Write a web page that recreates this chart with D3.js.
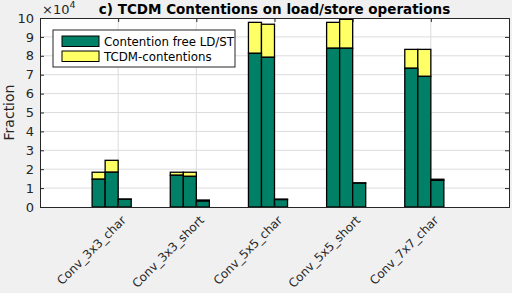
<!DOCTYPE html>
<meta charset="utf-8">
<script src="https://cdn.jsdelivr.net/npm/d3@7"></script>
<style>
  body { margin: 0; background: #f0f0f0; }
  text { font-family: "DejaVu Sans", sans-serif; }
</style>
<body>
<div id="chart"></div>
<script>
// data, in units of 1e4
var categories = ["Conv_3x3_char", "Conv_3x3_short", "Conv_5x5_char", "Conv_5x5_short", "Conv_7x7_char"];
var series = ["Contention free LD/ST", "TCDM-contentions"];
// green part of each bar (3 bars per group, 4th slot empty)
var freeVals = [
  [1.47, 1.84, 0.41],
  [1.68, 1.62, 0.31],
  [8.13, 7.92, 0.39],
  [8.40, 8.40, 1.26],
  [7.34, 6.91, 1.41]
];
// totals (green + yellow)
var totalVals = [
  [1.84, 2.47, 0.42],
  [1.84, 1.84, 0.37],
  [9.77, 9.67, 0.42],
  [9.77, 9.93, 1.28],
  [8.34, 8.34, 1.47]
];
var yTicks = [0, 1, 2, 3, 4, 5, 6, 7, 8, 9, 10];

var W = 512, H = 293;
var margin = {top: 18, right: 3, bottom: 86, left: 40};
var width = W - margin.left - margin.right,
    height = H - margin.top - margin.bottom;

var green = "#008066", yellow = "#ffff66";

var svg = d3.select("#chart").append("svg")
    .attr("width", W).attr("height", H);

var g = svg.append("g")
    .attr("transform", "translate(" + margin.left + "," + margin.top + ")");

var x = d3.scaleLinear().domain([0, 6]).range([0, width]);
var y = d3.scaleLinear().domain([0, 10]).range([height, 0]);

g.append("rect").attr("width", width).attr("height", height).attr("fill", "#fff");

// grid
g.selectAll(".gy").data(yTicks.slice(1, -1)).enter().append("line")
    .attr("x1", 0).attr("x2", width)
    .attr("y1", function(d) { return y(d); }).attr("y2", function(d) { return y(d); })
    .attr("stroke", "#dcdcdc").attr("stroke-width", 1);
g.selectAll(".gx").data(categories).enter().append("line")
    .attr("x1", function(d, i) { return x(i + 1); }).attr("x2", function(d, i) { return x(i + 1); })
    .attr("y1", 0).attr("y2", height)
    .attr("stroke", "#dcdcdc").attr("stroke-width", 1);

// bars
var bw = 1 / 6;
var bars = [];
categories.forEach(function(c, i) {
  freeVals[i].forEach(function(v, j) {
    bars.push({x0: i + 1 + (j - 2) * bw, free: v, total: totalVals[i][j]});
  });
});

g.selectAll(".top").data(bars).enter().append("rect")
    .attr("x", function(d) { return x(d.x0); })
    .attr("width", x(bw) - x(0))
    .attr("y", function(d) { return y(d.total); })
    .attr("height", function(d) { return y(d.free) - y(d.total); })
    .attr("fill", yellow).attr("stroke", "#000").attr("stroke-width", 1.3);
g.selectAll(".bot").data(bars).enter().append("rect")
    .attr("x", function(d) { return x(d.x0); })
    .attr("width", x(bw) - x(0))
    .attr("y", function(d) { return y(d.free); })
    .attr("height", function(d) { return y(0) - y(d.free); })
    .attr("fill", green).attr("stroke", "#000").attr("stroke-width", 1.3);

// axes
var yAxis = g.append("g").call(d3.axisLeft(y).tickValues(yTicks).tickSize(-4).tickPadding(6));
var yAxisR = g.append("g").attr("transform", "translate(" + width + ",0)")
    .call(d3.axisRight(y).tickValues(yTicks).tickSize(-4).tickFormat(""));
var xAxis = g.append("g").attr("transform", "translate(0," + height + ")")
    .call(d3.axisBottom(x).tickValues([1, 2, 3, 4, 5]).tickSize(-4)
      .tickFormat(function(d) { return categories[d - 1]; }));
var xAxisT = g.append("g")
    .call(d3.axisTop(x).tickValues([1, 2, 3, 4, 5]).tickSize(-4).tickFormat(""));

[yAxis, yAxisR, xAxis, xAxisT].forEach(function(a) {
  a.select(".domain").attr("stroke", "#262626");
  a.selectAll(".tick line").attr("stroke", "#262626");
  a.selectAll("text").attr("fill", "#262626").style("font-size", "13px");
});
xAxis.selectAll("text")
    .style("font-size", "12px")
    .attr("y", 0)
    .attr("text-anchor", "end")
    .attr("dy", "0.35em")
    .attr("transform", "translate(5,11) rotate(-45)");

// exponent label
var ex = g.append("text").attr("x", 2).attr("y", -4).attr("fill", "#262626")
    .style("font-size", "13px");
ex.append("tspan").text("\u00d710");
ex.append("tspan").attr("dy", -6).style("font-size", "9.5px").text("4");

// title
svg.append("text").attr("x", margin.left + width / 2).attr("y", 14)
    .attr("text-anchor", "middle").attr("font-weight", "bold")
    .style("font-size", "13.5px").attr("fill", "#000")
    .text("c) TCDM Contentions on load/store operations");

// y label
svg.append("text")
    .attr("transform", "translate(14," + (margin.top + height / 2) + ") rotate(-90)")
    .attr("text-anchor", "middle").attr("fill", "#262626").style("font-size", "14px")
    .text("Fraction");

// legend
var lg = g.append("g").attr("transform", "translate(13,12)");
lg.append("rect").attr("width", 182).attr("height", 37)
    .attr("fill", "#fff").attr("stroke", "#262626");
[green, yellow].forEach(function(c, i) {
  lg.append("rect").attr("x", 9).attr("y", 6 + i * 15).attr("width", 37).attr("height", 10.5)
      .attr("fill", c).attr("stroke", "#000");
  lg.append("text").attr("x", 51).attr("y", 11.5 + i * 15).attr("dy", "0.35em")
      .attr("fill", "#000").style("font-size", "11.8px").text(series[i]);
});
</script>
</body>
